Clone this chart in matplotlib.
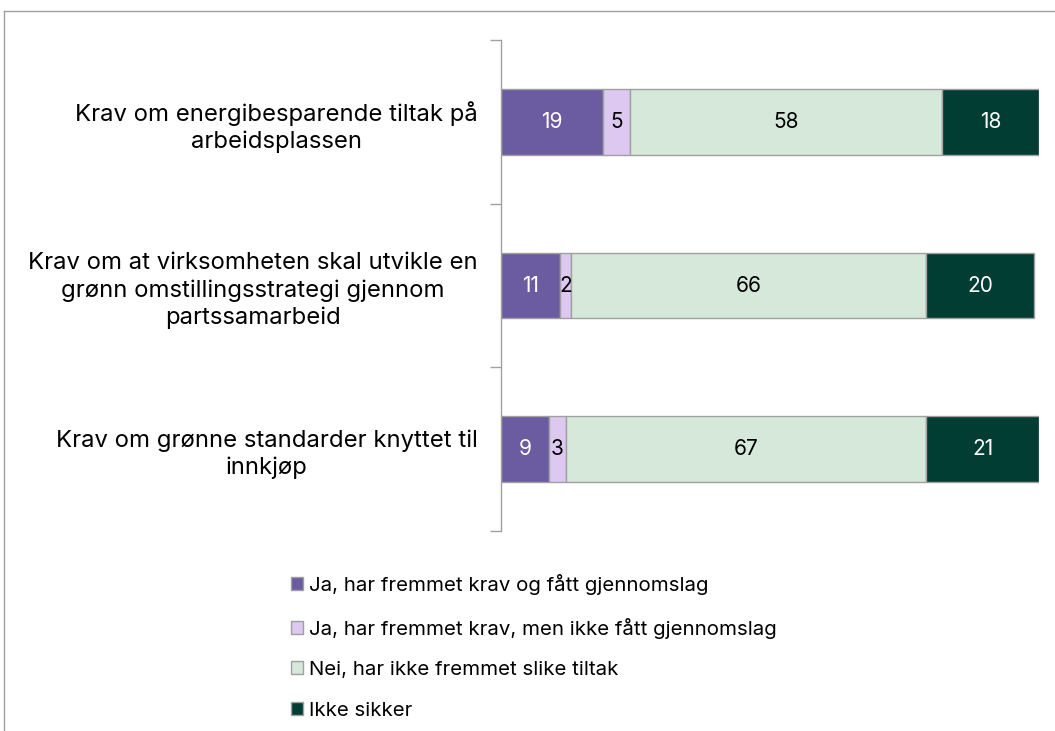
import matplotlib
matplotlib.use("Agg")
import matplotlib.pyplot as plt
from matplotlib.lines import Line2D
import numpy as np

plt.rcParams['font.family'] = ['Inter', 'DejaVu Sans']

categories = [
    "Krav om energibesparende tiltak på\narbeidsplassen",
    "Krav om at virksomheten skal utvikle en\ngrønn omstillingsstrategi gjennom\npartssamarbeid",
    "Krav om grønne standarder knyttet til\ninnkjøp",
]
series_names = [
    "Ja, har fremmet krav og fått gjennomslag",
    "Ja, har fremmet krav, men ikke fått gjennomslag",
    "Nei, har ikke fremmet slike tiltak",
    "Ikke sikker",
]
values = [
    [19, 11, 9],
    [5, 2, 3],
    [58, 66, 67],
    [18, 20, 21],
]
colors = ["#6B5BA0", "#DCC8F0", "#D5E8DA", "#023D33"]
text_colors = ["white", "black", "black", "white"]

W, H = 1055, 731
fig = plt.figure(figsize=(W / 100, H / 100), dpi=100)
ax = fig.add_axes([501 / W, 1 - 531 / H, 538 / W, 491 / H])

y = np.arange(len(categories))
left = np.zeros(len(categories))
for vals, name, c, tc in zip(values, series_names, colors, text_colors):
    bars = ax.barh(y, vals, left=left, height=0.4, color=c, edgecolor="#a0a0a0",
                   linewidth=1.0, label=name)
    ax.bar_label(bars, labels=[str(v) for v in vals], label_type="center",
                 color=tc, fontsize=15)
    left = left + np.array(vals)

ax.set_xlim(0, 100)
ax.set_ylim(len(categories) - 0.5, -0.5)
ax.set_xticks([])
for s in ["top", "right", "bottom"]:
    ax.spines[s].set_visible(False)
ax.spines["left"].set_color("#a0a0a0")
ax.spines["left"].set_linewidth(1.0)

ax.set_yticks(np.arange(len(categories) + 1) - 0.5)
ax.set_yticklabels([])
ax.tick_params(axis="y", which="major", length=8, color="#a0a0a0", width=1.0)
ax.set_yticks(y, minor=True)
ax.set_yticklabels(categories, minor=True, fontsize=17.2)
ax.tick_params(axis="y", which="minor", length=0, pad=17)
for lab in ax.get_yticklabels(minor=True):
    lab.set_multialignment("center")
    lab.set_linespacing(1.3)

leg = fig.legend(loc="upper left", bbox_to_anchor=(283 / W, 1 - 566 / H),
                 frameon=False, fontsize=14.7, handlelength=0.6, handleheight=0.6,
                 handletextpad=0.25, labelspacing=1.1, borderaxespad=0)
for h in leg.legend_handles:
    h.set_edgecolor("#a0a0a0")

fig.add_artist(Line2D([4 / W, 1], [1 - 11 / H, 1 - 11 / H], color="#a0a0a0",
                      linewidth=1.0, transform=fig.transFigure))
fig.add_artist(Line2D([4 / W, 4 / W], [1 - 11 / H, 0], color="#a0a0a0",
                      linewidth=1.0, transform=fig.transFigure))

fig.savefig("out.png", dpi=100)
